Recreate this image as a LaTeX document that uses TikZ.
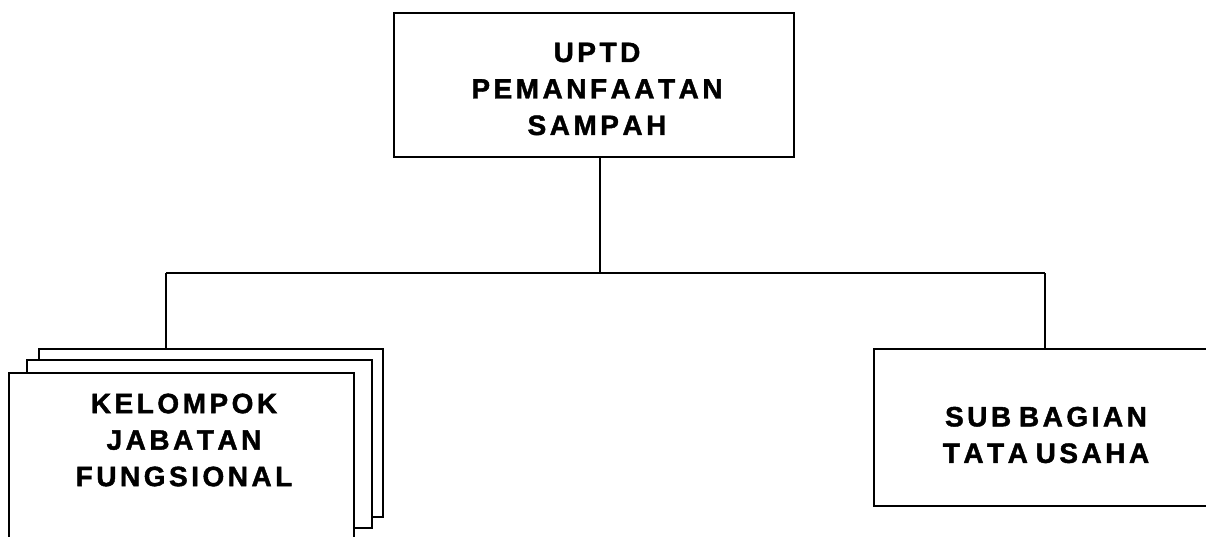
\documentclass[tikz,border=0pt]{standalone}
\usepackage{fontspec}
\newfontfamily\boxfont{Liberation Sans Bold}[FakeBold=1.5]
\makeatletter
\def\ls#1{\ls@a#1\relax}
\def\ls@a#1{\ifx#1\relax\unkern\else#1\kern3.5pt\expandafter\ls@a\fi}
\makeatother
\begin{document}
\begin{tikzpicture}[x=1pt,y=-1pt,
  box/.style={draw=black,line width=1.7pt,fill=white,rectangle,inner sep=0pt},
  lbl/.style={font=\boxfont\fontsize{28}{36.5}\selectfont,align=center},
  conn/.style={draw=black,line width=1.5pt}]
\useasboundingbox (0,0) rectangle (1206,537);
\node[box,minimum width=400pt,minimum height=144pt,
  label={[lbl,yshift=-4pt,xshift=3pt]center:\ls{UPTD}\\\ls{PEMANFAATAN}\\\ls{SAMPAH}}] (top) at (594,85) {};
\node[box,minimum width=344pt,minimum height=168pt] (back) at (211,433) {};
\node[box,minimum width=345pt,minimum height=168pt] (mid) at (199.5,444) {};
\node[box,minimum width=345pt,minimum height=168pt,
  label={[lbl,yshift=17pt,xshift=2.5pt]center:\ls{KELOMPOK}\\\ls{JABATAN}\\\ls{FUNGSIONAL}}] (front) at (181.5,457) {};
\node[box,minimum width=344pt,minimum height=157pt,
  label={[lbl,yshift=-7.5pt]center:\ls{SUB}\ \ls{BAGIAN}\\\ls{TATA}\ \ls{USAHA}}] (tu) at (1046,427.5) {};
\coordinate (drop) at (600,273);
\coordinate (busL) at (166,273);
\coordinate (busR) at (1045,273);
\draw[conn] (busL) -- (busR);
\draw[conn] (drop |- top.south) -- (drop);
\draw[conn] (busL) -- (busL |- back.north);
\draw[conn] (busR) -- (busR |- tu.north);
\end{tikzpicture}
\end{document}
